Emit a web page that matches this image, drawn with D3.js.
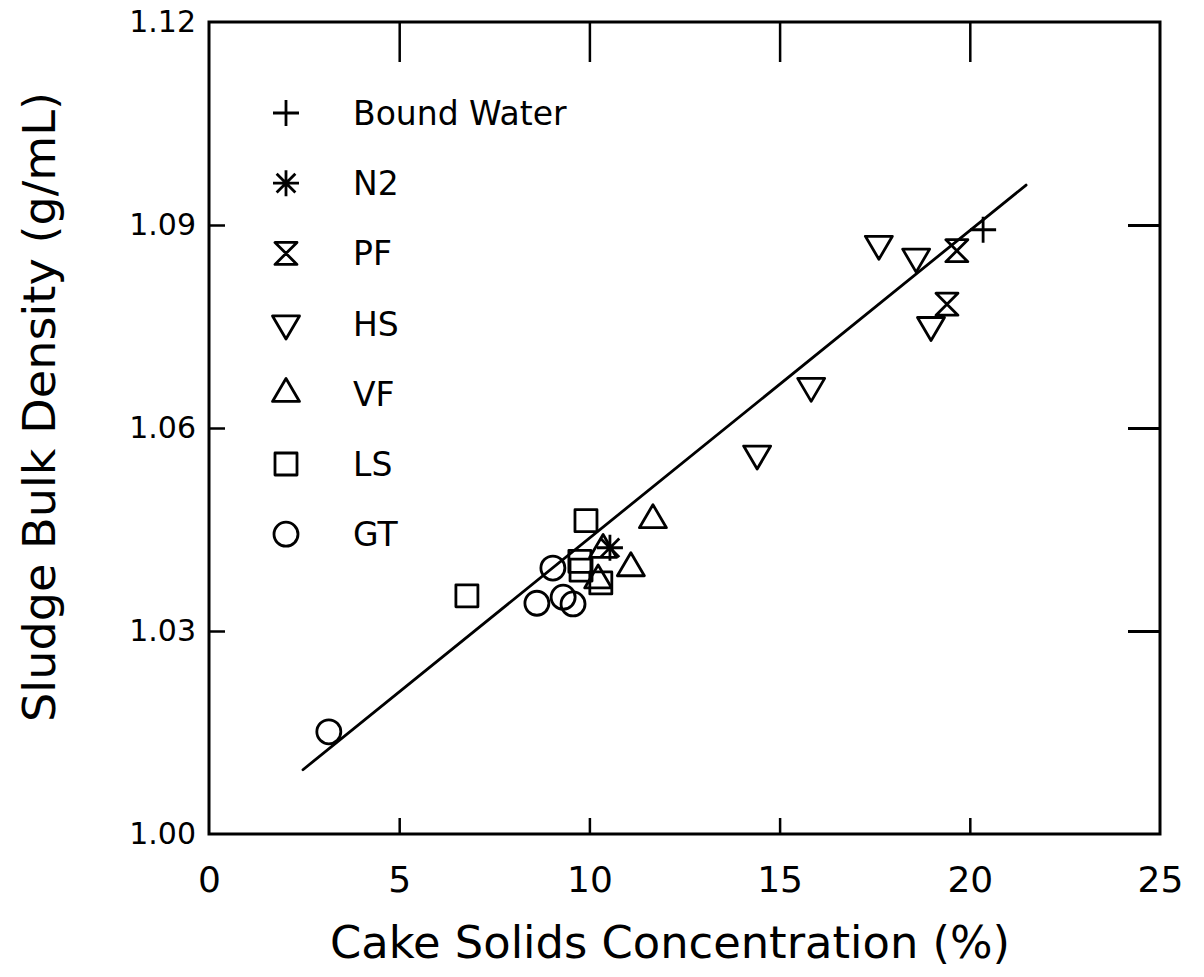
<!DOCTYPE html>
<html>
<head>
<meta charset="utf-8">
<script src="https://cdn.jsdelivr.net/npm/d3@7"></script>
<style>
  html, body { margin: 0; padding: 0; background: #fff; }
  svg { display: block; }
  text { font-family: "DejaVu Sans", "Liberation Sans", Arial, sans-serif; fill: #000; }
</style>
</head>
<body>
<svg id="chart" width="1204" height="977"></svg>
<script>
// ---- Data ----
const xTicks = [0, 5, 10, 15, 20, 25];
const yTicks = [1.00, 1.03, 1.06, 1.09, 1.12];
const xLabel = "Cake Solids Concentration (%)";
const yLabel = "Sludge Bulk Density (g/mL)";

const seriesNames = ["Bound Water", "N2", "PF", "HS", "VF", "LS", "GT"];
const seriesSymbols = ["plus", "asterisk", "hourglass", "triDown", "triUp", "square", "circle"];

const boundWaterX = [20.35];
const boundWaterY = [1.0893];
const n2X = [10.54];
const n2Y = [1.0423];
const pfX = [19.66, 19.40];
const pfY = [1.0862, 1.0783];
const hsX = [17.61, 18.59, 18.98, 15.83, 14.41];
const hsY = [1.0872, 1.0853, 1.0752, 1.0662, 1.0562];
const vfX = [11.67, 11.09, 10.36, 10.23];
const vfY = [1.0464, 1.0393, 1.0420, 1.0375];
const lsX = [9.91, 6.78, 9.75, 9.78, 10.30];
const lsY = [1.0463, 1.0352, 1.0403, 1.0390, 1.0371];
const gtX = [3.15, 9.04, 8.62, 9.31, 9.57];
const gtY = [1.0151, 1.0393, 1.0341, 1.0350, 1.0340];

const fitX = [2.47, 21.48];
const fitY = [1.0095, 1.0959];

const seriesX = [boundWaterX, n2X, pfX, hsX, vfX, lsX, gtX];
const seriesY = [boundWaterY, n2Y, pfY, hsY, vfY, lsY, gtY];

// ---- Layout ----
const svg = d3.select("#chart");
const L = 209, R = 1160, T = 22, B = 834;

const x = d3.scaleLinear().domain([0, 25]).range([L, R]);
const y = d3.scaleLinear().domain([1.00, 1.12]).range([B, T]);

// ---- Symbols ----
function symbolPath(type) {
  const p = d3.path();
  switch (type) {
    case "plus": {
      const s = 13;
      p.moveTo(-s, 0); p.lineTo(s, 0);
      p.moveTo(0, -s); p.lineTo(0, s);
      break;
    }
    case "asterisk": {
      const s = 13;
      p.moveTo(-s, 0); p.lineTo(s, 0);
      p.moveTo(0, -s); p.lineTo(0, s);
      const d = s * 0.72;
      p.moveTo(-d, -d); p.lineTo(d, d);
      p.moveTo(-d, d); p.lineTo(d, -d);
      break;
    }
    case "hourglass": {
      const w = 11, h = 11;
      p.moveTo(-w, -h); p.lineTo(w, -h); p.lineTo(-w, h); p.lineTo(w, h); p.closePath();
      break;
    }
    case "triDown": {
      const w = 13.5, h = 23;
      p.moveTo(-w, -h / 3); p.lineTo(w, -h / 3); p.lineTo(0, 2 * h / 3); p.closePath();
      break;
    }
    case "triUp": {
      const w = 13.5, h = 23;
      p.moveTo(-w, h / 3); p.lineTo(w, h / 3); p.lineTo(0, -2 * h / 3); p.closePath();
      break;
    }
    case "square": {
      const s = 11;
      p.rect(-s, -s, 2 * s, 2 * s);
      break;
    }
    case "circle": {
      p.arc(0, 0, 12, 0, 2 * Math.PI);
      p.closePath();
      break;
    }
  }
  return p.toString();
}

// ---- Frame ----
svg.append("rect")
  .attr("x", L).attr("y", T).attr("width", R - L).attr("height", B - T)
  .attr("fill", "none").attr("stroke", "#000").attr("stroke-width", 3);

const FONT = "DejaVu Sans, Liberation Sans, Arial, sans-serif";

// bottom: short inward ticks
svg.append("g").attr("transform", `translate(0,${B})`)
  .call(d3.axisBottom(x).tickValues(xTicks).tickSizeInner(-16).tickSizeOuter(0).tickPadding(32).tickFormat(d3.format("d")))
  .call(g => g.select(".domain").remove())
  .call(g => g.selectAll(".tick line").attr("stroke-width", 2.5).filter(d => d === 0 || d === 25).remove())
  .call(g => g.selectAll(".tick text").attr("font-size", 36).attr("font-family", FONT));

// top: long inward ticks
svg.append("g").attr("transform", `translate(0,${T})`)
  .call(d3.axisTop(x).tickValues(xTicks.filter(d => d > 0 && d < 25)).tickSizeInner(-40).tickSizeOuter(0).tickFormat(""))
  .call(g => g.select(".domain").remove())
  .call(g => g.selectAll(".tick line").attr("stroke-width", 2.5));

// left: short inward ticks with labels
svg.append("g").attr("transform", `translate(${L},0)`)
  .call(d3.axisLeft(y).tickValues(yTicks).tickSizeInner(-16).tickSizeOuter(0).tickPadding(13).tickFormat(d3.format(".2f")))
  .call(g => g.select(".domain").remove())
  .call(g => g.selectAll(".tick line").attr("stroke-width", 2.5).filter(d => d === 1.00 || d === 1.12).remove())
  .call(g => g.selectAll(".tick text").attr("font-size", 30).attr("font-family", FONT));

// right: long inward ticks
svg.append("g").attr("transform", `translate(${R},0)`)
  .call(d3.axisRight(y).tickValues(yTicks.filter(d => d > 1.00 && d < 1.12)).tickSizeInner(-32).tickSizeOuter(0).tickFormat(""))
  .call(g => g.select(".domain").remove())
  .call(g => g.selectAll(".tick line").attr("stroke-width", 3));

// ---- Axis titles ----
svg.append("text")
  .attr("x", 670).attr("y", 958)
  .attr("text-anchor", "middle")
  .attr("font-size", 44)
  .attr("textLength", 680).attr("lengthAdjust", "spacingAndGlyphs")
  .text(xLabel);

svg.append("text")
  .attr("transform", `translate(55,407) rotate(-90)`)
  .attr("text-anchor", "middle")
  .attr("font-size", 44)
  .attr("textLength", 630).attr("lengthAdjust", "spacingAndGlyphs")
  .text(yLabel);

// ---- Fit line ----
const line = d3.line().x(d => x(d[0])).y(d => y(d[1]));
svg.append("path")
  .datum(fitX.map((v, i) => [v, fitY[i]]))
  .attr("d", line)
  .attr("fill", "none").attr("stroke", "#000").attr("stroke-width", 2.8).attr("stroke-linecap", "round");

// ---- Points ----
seriesNames.forEach((name, si) => {
  const pts = seriesX[si].map((v, i) => [v, seriesY[si][i]]);
  svg.append("g").selectAll("path").data(pts).join("path")
    .attr("transform", d => `translate(${x(d[0])},${y(d[1])})`)
    .attr("d", symbolPath(seriesSymbols[si]))
    .attr("fill", "none").attr("stroke", "#000").attr("stroke-width", 2.8)
    .attr("stroke-linejoin", "round");
});

// ---- Legend ----
const legend = svg.append("g");
seriesNames.forEach((name, i) => {
  const cy = 113 + i * 70.2;
  legend.append("path")
    .attr("transform", `translate(286,${cy})`)
    .attr("d", symbolPath(seriesSymbols[i]))
    .attr("fill", "none").attr("stroke", "#000").attr("stroke-width", 2.8)
    .attr("stroke-linejoin", "round");
  legend.append("text")
    .attr("x", 353).attr("y", cy + 12)
    .attr("font-size", 33)
    .text(name);
});
</script>
</body>
</html>
